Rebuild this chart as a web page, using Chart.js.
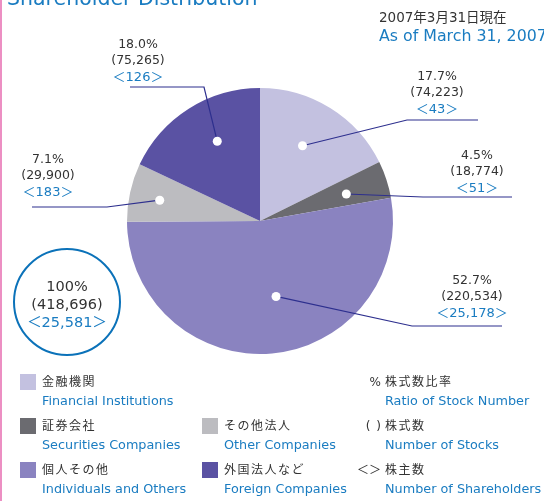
<!DOCTYPE html>
<html lang="ja">
<head>
    <meta charset="UTF-8">
    <title>Shareholder Distribution</title>
    <script src="https://cdn.jsdelivr.net/npm/chart.js"></script>
    <style>
        body {
            margin: 0;
            background: #ffffff;
            font-family: "DejaVu Sans", "Noto Sans CJK JP", sans-serif;
            overflow: hidden;
        }
        #wrap {
            position: relative;
            width: 544px;
            height: 501px;
            overflow: hidden;
        }
        #edge { position: absolute; left: 0; top: 0; width: 2px; height: 501px; background: #ec8fc3; }
        #pie { position: absolute; left: 0; top: 0; }
        .abs { position: absolute; white-space: nowrap; }
        .ja { color: #333333; font-size: 12px; letter-spacing: 1.5px; line-height: 16px; }
        .en { color: #1a7cc1; font-size: 12.8px; line-height: 16px; }
        .sw { position: absolute; width: 16px; height: 16px; }
        #title { left: 7px; top: -14px; font-size: 20.5px; line-height: 24px; color: #1a7cc1; }
        #dateJa { left: 379px; top: 8px; font-size: 13.5px; line-height: 18px; color: #333333; }
        #dateEn { left: 379px; top: 27px; font-size: 15.8px; line-height: 18px; color: #1a7cc1; }
        #total {
            position: absolute;
            left: 13px; top: 248px;
            width: 104px; height: 104px;
            border: 2.5px solid #0b72b9;
            border-radius: 50%;
            text-align: center;
            font-size: 14.5px;
            line-height: 18px;
            color: #333333;
        }
        #total .in { position: absolute; left: 0; right: 0; top: 27px; }
        #total .blue { color: #1a7cc1; }
    </style>
</head>
<body>
<div id="wrap">
    <div id="edge"></div>
    <canvas id="pie" width="544" height="501"></canvas>
    <div class="abs" id="title">Shareholder Distribution</div>
    <div class="abs" id="dateJa">2007年3月31日現在</div>
    <div class="abs" id="dateEn">As of March 31, 2007</div>
    <div id="total"><div class="in">
        <div id="totRatio"></div>
        <div id="totStocks"></div>
        <div class="blue" id="totHolders"></div>
    </div></div>
    <div id="legend"></div>
</div>

<script>
    // 株主分布（2007年3月31日現在）
    const namesJa = ['金融機関', '証券会社', '個人その他', 'その他法人', '外国法人など'];
    const namesEn = ['Financial Institutions', 'Securities Companies', 'Individuals and Others', 'Other Companies', 'Foreign Companies'];
    const ratios = [17.7, 4.5, 52.7, 7.1, 18.0];          // 株式数比率 %
    const stocks = [74223, 18774, 220534, 29900, 75265];  // 株式数
    const holders = [43, 51, 25178, 183, 126];            // 株主数
    const sliceColors = ['#c3c1e0', '#6b6b70', '#8a83c0', '#bcbcc0', '#5a52a3'];

    // key for the three numbers shown next to each slice
    const keySymbols = ['%', '(\u2002)', '＜＞'];
    const keyJa = ['株式数比率', '株式数', '株主数'];
    const keyEn = ['Ratio of Stock Number', 'Number of Stocks', 'Number of Shareholders'];

    // leader line / label placement per slice
    const dotRadius = [0.65, 0.68, 0.58, 0.77, 0.68];
    const dotNudge = [-2.4, 0.8, -6.8, -0.7, 4.2];   // degrees
    const elbows = [[407, 120], [423, 197], [412, 326], [107, 207], [204, 87]];
    const lineEnds = [478, 512, 502, 32, 130];
    const labelPos = [[437, 77], [477, 156], [472, 281], [48, 160], [138, 45]];

    const fmt = n => n.toLocaleString('en-US');

    document.getElementById('totRatio').textContent = Math.round(ratios.reduce((a, b) => a + b, 0)) + '%';
    document.getElementById('totStocks').textContent = '(' + fmt(stocks.reduce((a, b) => a + b, 0)) + ')';
    document.getElementById('totHolders').textContent = '＜' + fmt(holders.reduce((a, b) => a + b, 0)) + '＞';

    // legend block under the pie
    const legend = document.getElementById('legend');
    const legendSlots = [[20, 374], [20, 418], [20, 462], [202, 418], [202, 462]];
    function addText(cls, x, y, txt) {
        const d = document.createElement('div');
        d.className = 'abs ' + cls;
        d.style.left = x + 'px';
        d.style.top = y + 'px';
        d.textContent = txt;
        legend.appendChild(d);
        return d;
    }
    namesJa.forEach((n, i) => {
        const [x, y] = legendSlots[i];
        const sw = document.createElement('div');
        sw.className = 'sw';
        sw.style.left = x + 'px';
        sw.style.top = y + 'px';
        sw.style.background = sliceColors[i];
        legend.appendChild(sw);
        addText('ja', x + 22, y, n);
        addText('en', x + 22, y + 19, namesEn[i]);
    });
    keyJa.forEach((n, i) => {
        const y = 374 + i * 44;
        const s = addText('ja', 340, y, keySymbols[i]);
        s.style.width = '41px';
        s.style.textAlign = 'right';
        s.style.letterSpacing = '0';
        addText('ja', 385, y, n);
        addText('en', 385, y + 19, keyEn[i]);
    });

    const leaderPlugin = {
        id: 'leaders',
        afterDatasetsDraw(chart) {
            const ctx = chart.ctx;
            const arcs = chart.getDatasetMeta(0).data;
            ctx.save();
            arcs.forEach((arc, i) => {
                const mid = (arc.startAngle + arc.endAngle) / 2 + dotNudge[i] * Math.PI / 180;
                const r = arc.outerRadius * dotRadius[i];
                const dx = arc.x + Math.cos(mid) * r;
                const dy = arc.y + Math.sin(mid) * r;
                const [ex, ey] = elbows[i];

                ctx.strokeStyle = '#2d2f8e';
                ctx.lineWidth = 1.2;
                ctx.beginPath();
                ctx.moveTo(dx, dy);
                ctx.lineTo(ex, ey);
                ctx.lineTo(lineEnds[i], ey);
                ctx.stroke();

                ctx.fillStyle = '#ffffff';
                ctx.beginPath();
                ctx.arc(dx, dy, 4.5, 0, Math.PI * 2);
                ctx.fill();

                const [lx, ly] = labelPos[i];
                ctx.textAlign = 'center';
                ctx.textBaseline = 'middle';
                ctx.font = '12.5px "DejaVu Sans", "Noto Sans CJK JP", sans-serif';
                ctx.fillStyle = '#333333';
                ctx.fillText(ratios[i].toFixed(1) + '%', lx, ly);
                ctx.fillText('(' + fmt(stocks[i]) + ')', lx, ly + 16);
                ctx.fillStyle = '#1a7cc1';
                ctx.font = '13px "DejaVu Sans", "Noto Sans CJK JP", sans-serif';
                ctx.fillText('＜' + fmt(holders[i]) + '＞', lx, ly + 33);
            });
            ctx.restore();
        }
    };

    new Chart(document.getElementById('pie').getContext('2d'), {
        type: 'pie',
        data: {
            labels: namesEn,
            datasets: [{
                data: ratios,
                backgroundColor: sliceColors,
                borderWidth: 0
            }]
        },
        options: {
            responsive: false,
            animation: false,
            layout: {
                padding: { left: 127, right: 151, top: 88, bottom: 147 }
            },
            plugins: {
                legend: { display: false },
                tooltip: { enabled: false }
            }
        },
        plugins: [leaderPlugin]
    });
</script>
</body>
</html>
